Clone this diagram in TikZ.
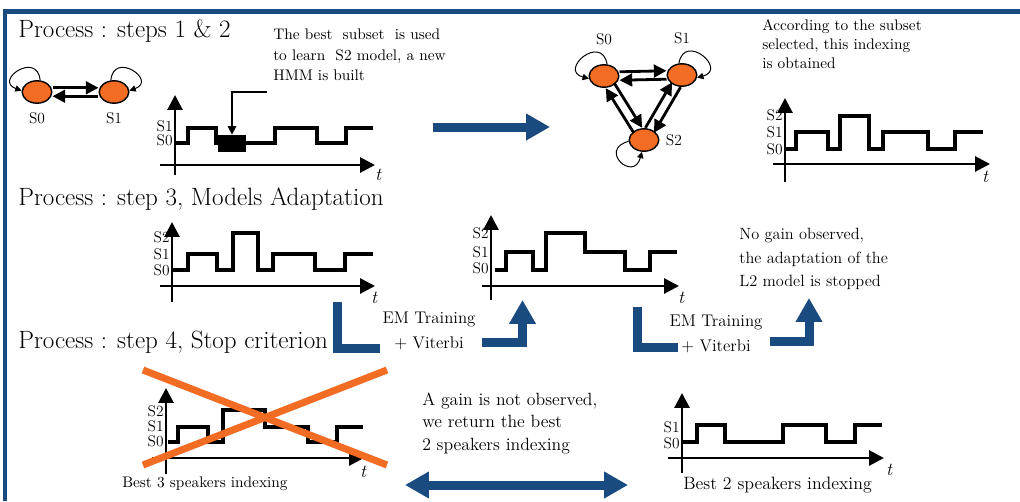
\documentclass[tikz,border=0pt]{standalone}
\usepackage{tikz}
\usetikzlibrary{shapes.geometric, arrows.meta, positioning, calc}
\definecolor{hmmorange}{RGB}{242,108,35}
\definecolor{darkblue}{RGB}{25,75,128}

\begin{document}
\begin{tikzpicture}[x=0.025cm,y=-0.025cm,
  state/.style={draw,ellipse,fill=hmmorange,line width=1pt,inner sep=0pt,minimum width=0.74cm,minimum height=0.56cm},
  every label/.style={font=\fontsize{11}{11}\selectfont},
  hmmarrow/.style={line width=2pt,-{Triangle[length=9pt,width=9pt]}},
  selfloop/.style={line width=0.7pt,-{Triangle[length=4.5pt,width=4.5pt]}},
  axis/.style={line width=2pt,-{Triangle[length=10.5pt,width=10.5pt]}},
  signal/.style={line width=2.8pt},
  pointer/.style={line width=1pt,-{Triangle[length=6pt,width=6pt]}},
  bluearrow/.style={darkblue,line width=6.4pt,-{Triangle[length=17pt,width=18pt]}},
  bluebar/.style={darkblue,line width=6.4pt},
  strike/.style={hmmorange,line width=5pt},
  title/.style={anchor=base west,inner sep=0pt,font=\fontsize{17.8}{20}\selectfont},
  note/.style={anchor=west,align=left,inner sep=0pt},
  lvl/.style={anchor=east,inner sep=0pt,font=\fontsize{11}{11}\selectfont},
  tlab/.style={font=\fontsize{13}{13}\selectfont\itshape}]
\useasboundingbox (0,0) rectangle (1020,501);

\draw[darkblue,line width=3pt] (5,501) -- (5,11.5) -- (1020,11.5);

\node[title] (head1) at (18,37.5) {Process : steps 1 \& 2};
\node[title] (head3) at (18,205) {Process : step 3, Models Adaptation};
\node[title] (head4) at (18,348) {Process : step 4, Stop criterion};

\node[state,label={[label distance=3pt]below:S0}] (a0) at (37,92) {};
\node[state,label={[label distance=3pt]below:S1}] (a1) at (114,92) {};
\draw[hmmarrow] ([yshift=3pt]a0.east) -- ([yshift=3pt]a1.west);
\draw[hmmarrow] ([yshift=-3pt]a1.west) -- ([yshift=-3pt]a0.east);
\draw[selfloop] (a0.75) .. controls +(95:0.75cm) and +(160:0.75cm) .. (a0.175);
\draw[selfloop] (a1.105) .. controls +(85:0.75cm) and +(20:0.75cm) .. (a1.5);

\node[note,font=\fontsize{10.9}{14.5}\selectfont] (learn) at (273,55) {The best~ subset~ is used\\to learn~ S2 model, a new\\HMM is built};
\draw[axis] (175,175) -- (175,95);
\draw[axis] (160,165) -- (375,165);
\node[tlab] (t1) at (378,175) {t};
\node[lvl] (l1s1) at (173,126) {S1};
\node[lvl] (l1s0) at (173,140) {S0};
\draw[signal] (175,143) -| (188,128) -| (216,143) -| (275,128) -| (317,143) -| (346,128) -- (373,128);
\node[fill=black,inner sep=0pt,minimum width=0.7cm,minimum height=0.43cm] (blk) at (232,143.5) {};
\coordinate (ptr) at (267,92);
\draw[pointer] (ptr) -| (blk.north);

\draw[bluearrow] (433,127) -- (550,127);

\node[state,label={[label distance=10pt]above:S0}] (b0) at (604,76) {};
\node[state,label={[label distance=10pt]above:S1}] (b1) at (682,75) {};
\node[state,label={[label distance=1pt]right:S2}] (b2) at (644,140) {};
\draw[hmmarrow] ([yshift=3pt]b0.east) -- ([yshift=3pt]b1.west);
\draw[hmmarrow] ([yshift=-3pt]b1.west) -- ([yshift=-3pt]b0.east);
\draw[hmmarrow,shorten <=8pt,shorten >=8pt] ($(b0)!3.5pt!90:(b2)$) -- ($(b2)!3.5pt!-90:(b0)$);
\draw[hmmarrow,shorten <=8pt,shorten >=8pt] ($(b2)!3.5pt!90:(b0)$) -- ($(b0)!3.5pt!-90:(b2)$);
\draw[hmmarrow,shorten <=8pt,shorten >=8pt] ($(b1)!3.5pt!90:(b2)$) -- ($(b2)!3.5pt!-90:(b1)$);
\draw[hmmarrow,shorten <=8pt,shorten >=8pt] ($(b2)!3.5pt!90:(b1)$) -- ($(b1)!3.5pt!-90:(b2)$);
\draw[selfloop] (b0.75) .. controls +(100:0.8cm) and +(165:0.8cm) .. (b0.190);
\draw[selfloop] (b1.105) .. controls +(80:0.8cm) and +(15:0.8cm) .. (b1.350);
\draw[selfloop] (b2.185) .. controls +(195:0.8cm) and +(255:0.8cm) .. (b2.260);

\node[note,font=\fontsize{10.9}{13.5}\selectfont] (subset) at (762,44) {According to the subset\\selected, this indexing\\is obtained};
\draw[axis] (785,182) -- (785,98);
\draw[axis] (773,164) -- (990,164);
\node[tlab] (t2) at (985,177) {t};
\node[lvl] (l2s2) at (783,115) {S2};
\node[lvl] (l2s1) at (783,132) {S1};
\node[lvl] (l2s0) at (783,149) {S0};
\draw[signal] (785,149) -| (796,132) -| (828,149) -| (840,116) -| (869,149) -| (883,132) -| (928,149) -| (955,132) -- (983,132);

\draw[axis] (172,302) -- (172,222);
\draw[axis] (160,286) -- (375,286);
\node[tlab] (t3) at (374,298) {t};
\node[lvl] (l3s2) at (170,237) {S2};
\node[lvl] (l3s1) at (170,254) {S1};
\node[lvl] (l3s0) at (170,270) {S0};
\draw[signal] (172,270) -| (188,254) -| (217,270) -| (233,233) -| (258,270) -| (273,254) -| (315,270) -| (345,254) -- (373,254);

\draw[axis] (491,300) -- (491,215);
\draw[axis] (482,286) -- (679,286);
\node[tlab] (t4) at (681,298) {t};
\node[lvl] (l4s2) at (489,233) {S2};
\node[lvl] (l4s1) at (489,252) {S1};
\node[lvl] (l4s0) at (489,268) {S0};
\draw[signal] (495,270) -| (506,252) -| (533,270) -| (546,233) -| (585,252) -| (625,270) -| (650,252) -- (677,252);

\draw[bluebar] (337.5,302) |- (380,348);
\node[align=center,font=\fontsize{12}{17.7}\selectfont] (em1) at (429,331) {EM Training\\+ Viterbi};
\draw[bluearrow] (482,342.5) -| (522.5,300);
\draw[bluebar] (637,307) |- (678,347.5);
\node[align=center,font=\fontsize{12}{17.7}\selectfont] (em2) at (716,334) {EM Training\\+ Viterbi};
\draw[bluearrow] (770,341.5) -| (809,298);
\node[note,font=\fontsize{11.6}{16.7}\selectfont] (nogain) at (739,259) {No gain observed,\\the adaptation of the\\L2 model is stopped};

\draw[axis] (166,474) -- (166,388);
\draw[axis] (152,458) -- (364,458);
\node[tlab] (t5) at (363,472) {t};
\node[lvl] (l5s2) at (164,411) {S2};
\node[lvl] (l5s1) at (164,426) {S1};
\node[lvl] (l5s0) at (164,441) {S0};
\draw[signal] (168,442) -| (178,427) -| (208,442) -| (223,410) -| (265,427) -| (308,442) -| (337,427) -- (363,427);
\draw[strike] (143,370) -- (387,465);
\draw[strike] (143,465) -- (387,370);
\node[anchor=base west,inner sep=0pt,font=\fontsize{10.9}{13}\selectfont] (best3) at (122,487) {Best 3 speakers indexing};

\node[note,font=\fontsize{12.6}{16}\selectfont] (gain) at (422,423) {A gain is not observed,\\we return the best\\2 speakers indexing};
\draw[bluebar,{Triangle[length=17pt,width=18pt]}-{Triangle[length=17pt,width=18pt]}] (405,485) -- (628,485);

\draw[axis] (682,473) -- (682,393);
\draw[axis] (668,458) -- (884,458);
\node[tlab] (t6) at (889,470) {t};
\node[lvl] (l6s1) at (680,427) {S1};
\node[lvl] (l6s0) at (680,443) {S0};
\draw[signal] (683,442) -| (697,425) -| (725,442) -| (783,425) -| (826,442) -| (855,425) -- (882,425);
\node[anchor=base west,inner sep=0pt,font=\fontsize{12.7}{15}\selectfont] (best2) at (683,489) {Best 2 speakers indexing};
\end{tikzpicture}
\end{document}
